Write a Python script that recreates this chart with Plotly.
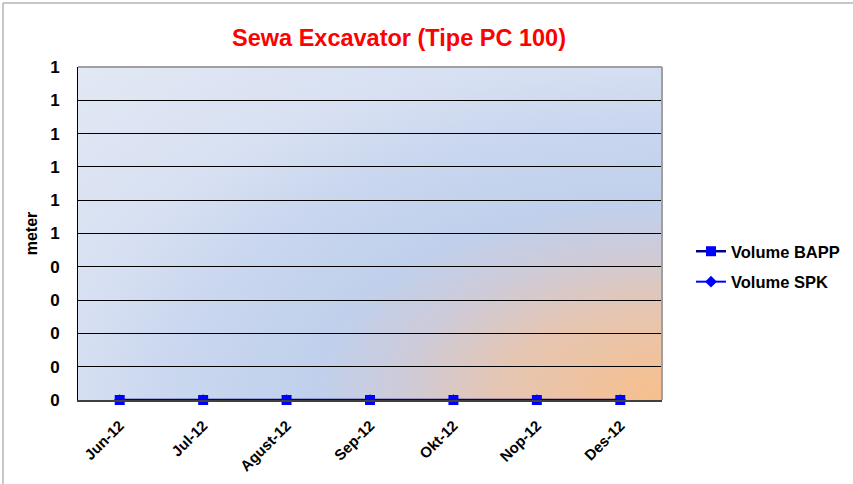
import base64
import plotly.graph_objects as go

months = ["Jun-12", "Jul-12", "Agust-12", "Sep-12", "Okt-12", "Nop-12", "Des-12"]
volume_spk = [0, 0, 0, 0, 0, 0, 0]
volume_bapp = [0, 0, 0, 0, 0, 0, 0]
y_tick_values = [0, 0.1, 0.2, 0.3, 0.4, 0.5, 0.6, 0.7, 0.8, 0.9, 1.0]
y_tick_labels = ["0", "0", "0", "0", "0", "1", "1", "1", "1", "1", "1"]

W, H = 853, 484
L, R, T, B = 78, 662, 67, 400
pw, ph = R - L, B - T

svg = (
    '<svg xmlns="http://www.w3.org/2000/svg" width="100" height="100" '
    'viewBox="0 0 100 100" preserveAspectRatio="none">'
    '<defs><radialGradient id="g" cx="1" cy="1" r="1.414" fx="1" fy="1" '
    'gradientUnits="objectBoundingBox">'
    '<stop offset="0" stop-color="#f8bf8b"/>'
    '<stop offset="0.2" stop-color="#e5c6b3"/>'
    '<stop offset="0.32" stop-color="#cdcbda"/>'
    '<stop offset="0.42" stop-color="#c0d0ec"/>'
    '<stop offset="0.6" stop-color="#cad7ef"/>'
    '<stop offset="0.72" stop-color="#d7e0f2"/>'
    '<stop offset="1" stop-color="#e2e8f4"/>'
    '</radialGradient></defs>'
    '<rect x="0" y="0" width="100" height="100" fill="url(#g)"/></svg>'
)
src = "data:image/svg+xml;base64," + base64.b64encode(svg.encode()).decode()

fig = go.Figure()
fig.add_trace(go.Scatter(
    x=months, y=volume_spk, name="Volume SPK", mode="lines+markers",
    line=dict(color="#0000ff", width=2),
    marker=dict(symbol="diamond", size=9, color="#0000ff"),
    legendgroup="b", legendrank=2,
))
fig.add_trace(go.Scatter(
    x=months, y=volume_bapp, name="Volume BAPP", mode="lines+markers",
    line=dict(color="#000080", width=2.5),
    marker=dict(symbol="square", size=10, color="#0000ff"),
    legendgroup="a", legendrank=1, cliponaxis=False,
))

def px_x(p):
    return (p - L) / pw

def px_y(p):
    return (B - p) / ph

fig.update_layout(
    width=W, height=H,
    margin=dict(l=L, r=W - R, t=T, b=H - B, autoexpand=False),
    paper_bgcolor="white",
    plot_bgcolor="rgba(0,0,0,0)",
    font=dict(family="Liberation Sans, Arial", color="black"),
    title=dict(text="<b>Sewa Excavator (Tipe PC 100)</b>",
               font=dict(size=23.5, color="#ff0000"),
               x=399 / W, xanchor="center", y=1 - 38 / H, yanchor="middle"),
    showlegend=True,
    legend=dict(x=px_x(691), y=px_y(234), xanchor="left", yanchor="top",
                font=dict(size=16.5, weight="bold"), traceorder="grouped",
                tracegroupgap=6, bgcolor="rgba(0,0,0,0)"),
    xaxis=dict(range=[-0.5, 6.5], showgrid=False, zeroline=False,
               showline=True, linecolor="#404040", linewidth=2,
               tickangle=-45, tickfont=dict(size=15, weight="bold"), ticks="",
               ticklabelstandoff=9, fixedrange=True, automargin=False),
    yaxis=dict(range=[0, 1.0], tickvals=y_tick_values, ticktext=y_tick_labels,
               showgrid=True, gridcolor="black", gridwidth=1, zeroline=False,
               showline=True, linecolor="black", linewidth=1,
               tickfont=dict(size=17, weight="bold"), ticks="", ticklabelstandoff=14,
               title=dict(text="<b>meter</b>", font=dict(size=16), standoff=8),
               fixedrange=True, automargin=False),
    images=[dict(source=src, xref="paper", yref="paper", x=0, y=1,
                 sizex=1, sizey=1, sizing="stretch", layer="below",
                 xanchor="left", yanchor="top")],
    shapes=[
        dict(type="line", xref="paper", yref="paper", x0=0, x1=1, y0=1, y1=1,
             line=dict(color="#a0a0a0", width=2), layer="above"),
        dict(type="line", xref="paper", yref="paper", x0=1, x1=1, y0=0, y1=1,
             line=dict(color="#a0a0a0", width=2), layer="above"),
        dict(type="rect", xref="paper", yref="paper",
             x0=px_x(3), x1=px_x(860), y0=px_y(490), y1=px_y(3),
             line=dict(color="#909090", width=1), fillcolor="rgba(0,0,0,0)",
             layer="above"),
    ],
)

fig.write_html("out.html", config={"displayModeBar": False},
               post_script="document.body.style.margin='0px';")
